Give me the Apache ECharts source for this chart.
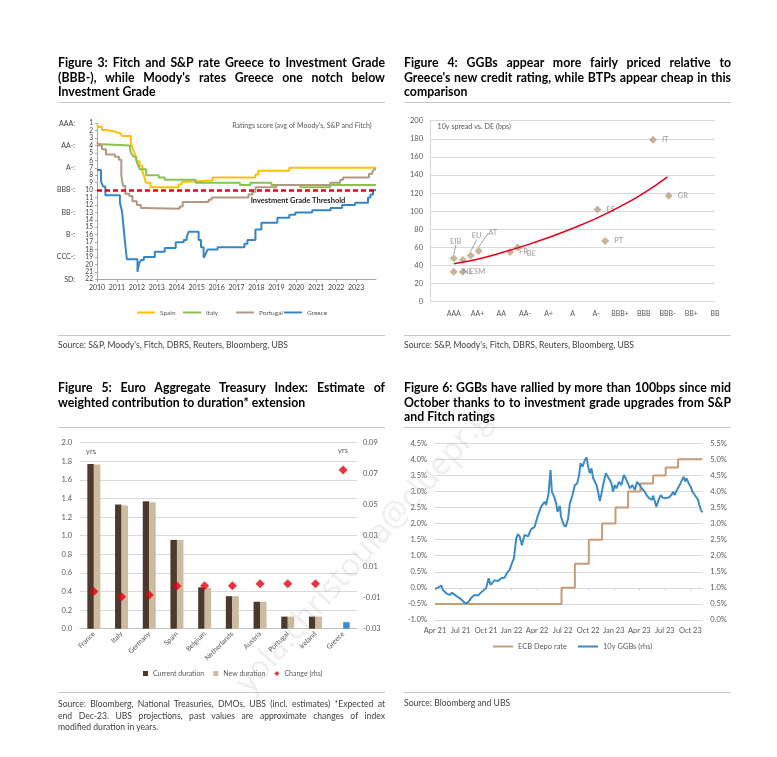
<!DOCTYPE html>
<html><head><meta charset="utf-8">
<script src="https://cdn.jsdelivr.net/npm/echarts@6/dist/echarts.min.js"></script>
<style>
html,body{margin:0;padding:0;background:#fff;}
body{width:777px;height:757px;position:relative;overflow:hidden;font-family:Lato,'Open Sans',sans-serif;}
#chart{position:absolute;left:0;top:0;width:777px;height:757px;}
.title{position:absolute;width:327px;font-weight:700;font-size:12.3px;color:#000;}
.title div{height:14.5px;line-height:14.5px;white-space:nowrap;}
.j{text-align:justify;text-align-last:justify;}
.rule{position:absolute;height:1px;background:#C8C8C8;width:327px;}
.src{position:absolute;font-size:8.6px;color:#404040;width:327px;}
.src div{height:11.5px;line-height:11.5px;white-space:nowrap;}
.wm{position:absolute;left:366px;top:545px;transform:translate(-50%,-50%) rotate(-48.5deg);font-family:'Open Sans',sans-serif;font-size:32px;color:rgba(150,150,150,0.17);white-space:nowrap;pointer-events:none;}
</style></head><body>
<div id="chart"></div>

<div class="title" style="left:58px;top:56px;">
  <div class="j">Figure 3: Fitch and S&amp;P rate Greece to Investment Grade</div>
  <div class="j">(BBB-), while Moody's rates Greece one notch below</div>
  <div>Investment Grade</div>
</div>
<div class="rule" style="left:58px;top:102px;"></div>
<div class="rule" style="left:58px;top:335px;"></div>
<div class="src" style="left:58px;top:340px;"><div>Source: S&amp;P, Moody's, Fitch, DBRS, Reuters, Bloomberg, UBS</div></div>

<div class="title" style="left:404px;top:56px;">
  <div class="j">Figure 4: GGBs appear more fairly priced relative to</div>
  <div class="j">Greece's new credit rating, while BTPs appear cheap in this</div>
  <div>comparison</div>
</div>
<div class="rule" style="left:404px;top:102px;"></div>
<div class="rule" style="left:404px;top:335px;"></div>
<div class="src" style="left:404px;top:340px;"><div>Source: S&amp;P, Moody's, Fitch, DBRS, Reuters, Bloomberg, UBS</div></div>

<div class="title" style="left:58px;top:381px;">
  <div class="j">Figure 5: Euro Aggregate Treasury Index: Estimate of</div>
  <div>weighted contribution to duration* extension</div>
</div>
<div class="rule" style="left:58px;top:427px;"></div>
<div class="rule" style="left:58px;top:692px;"></div>
<div class="src" style="left:58px;top:699px;">
  <div class="j">Source: Bloomberg, National Treasuries, DMOs, UBS (incl. estimates) *Expected at</div>
  <div class="j">end Dec-23. UBS projections, past values are approximate changes of index</div>
  <div>modified duration in years.</div>
</div>

<div class="title" style="left:404px;top:381px;">
  <div class="j">Figure 6: GGBs have rallied by more than 100bps since mid</div>
  <div class="j">October thanks to to investment grade upgrades from S&amp;P</div>
  <div>and Fitch ratings</div>
</div>
<div class="rule" style="left:404px;top:427px;"></div>
<div class="rule" style="left:404px;top:692px;"></div>
<div class="src" style="left:404px;top:698px;"><div>Source: Bloomberg and UBS</div></div>

<div class="wm">yola.christoula@cluepr.gr</div>

<script>
// ---------- Figure 3 data ----------
const ratingScoreTicks = [1, 4, 7, 10, 13, 16, 19, 22];
const ratingScoreLabels = ['AAA:', 'AA-:', 'A-:', 'BBB-:', 'BB-:', 'B-:', 'CCC-:', 'SD:'];
const investmentGradeThreshold = 10;
const spain = [[2010.0,1.2],[2010.1,1.5],[2010.25,1.9],[2010.5,2.1],[2010.85,2.3],[2011.15,2.5],[2011.25,2.7],[2011.7,3.6],[2011.78,4.3],[2011.87,4.9],[2011.95,5.6],[2012.0,6.1],[2012.13,6.7],[2012.27,7.4],[2012.36,8.1],[2012.45,9.0],[2012.68,9.6],[2014.1,9.2],[2014.25,8.9],[2014.35,8.7],[2015.8,8.3],[2017.95,7.9],[2018.1,7.4],[2019.65,7.0],[2024,7.0]];
const italy = [[2010.0,3.8],[2010.05,4.0],[2011.66,4.6],[2011.75,5.2],[2011.85,5.5],[2011.97,6.0],[2012.05,6.6],[2012.15,7.2],[2012.47,8.0],[2013.1,8.3],[2013.4,8.6],[2014.95,9.0],[2017.17,9.3],[2017.7,9.0],[2018.75,9.3],[2020.2,9.6],[2021.7,9.3],[2024,9.3]];
const portugal = [[2010.0,3.5],[2010.1,4.0],[2010.25,4.5],[2010.45,5.2],[2010.9,5.5],[2011.1,5.9],[2011.22,8.0],[2011.3,9.4],[2011.42,10.5],[2011.62,10.8],[2011.78,11.5],[2012.0,12.0],[2012.2,12.4],[2012.35,12.5],[2014.15,12.2],[2014.3,11.6],[2015.6,11.3],[2015.75,11.0],[2017.6,10.6],[2017.8,10.2],[2017.95,9.6],[2019.0,9.3],[2021.7,9.0],[2022.2,8.6],[2022.35,8.3],[2023.65,7.8],[2023.82,7.5],[2023.92,7.2],[2024,7.2]];
const greece = [[2010.0,7.3],[2010.2,8.8],[2010.3,9.5],[2010.42,10.7],[2011.15,11.7],[2011.25,12.8],[2011.32,14.6],[2011.4,16.9],[2011.5,19.3],[2012.03,21.0],[2012.12,19.8],[2012.22,19.4],[2012.35,19.0],[2012.9,18.3],[2013.4,17.8],[2013.95,17.0],[2014.35,16.7],[2014.5,16.3],[2014.6,15.6],[2015.1,16.7],[2015.22,17.7],[2015.35,19.1],[2015.45,18.6],[2015.55,18.0],[2016.05,17.7],[2017.4,17.2],[2017.55,16.7],[2017.95,15.3],[2018.25,14.4],[2019.05,13.7],[2019.65,13.3],[2019.95,13.0],[2020.8,12.7],[2021.72,12.4],[2022.3,12.0],[2022.95,11.7],[2023.6,11.0],[2023.72,10.6],[2023.85,10.0],[2024,10.0]];

// ---------- Figure 4 data ----------
const notchLabels = ['AAA','AA+','AA','AA-','A+','A','A-','BBB+','BBB','BBB-','BB+','BB'];
const issuerNames = ['EIB','','EU','AT','NL','ESM','FR','BE','ES','PT','IT','GR'];
const issuerNotch = [1.0,1.38,1.71,2.05,1.0,1.38,3.37,3.69,7.05,7.38,9.39,10.05];
const issuerSpread = [48,46,51,56,33,33,55,60,102,67,179,117];
const trendNotch = [1,2,3,4,5,6,7,8,9,10];
const trendSpread = [42,47,54,62,71,81,92,105,120,138];

// ---------- Figure 5 data ----------
const countries = ['France','Italy','Germany','Spain','Belgium','Netherlands','Austria','Portugal','Ireland','Greece'];
const currentDuration = [1.77,1.335,1.37,0.955,0.445,0.35,0.29,0.13,0.13,null];
const newDuration = [1.765,1.325,1.36,0.955,0.44,0.35,0.29,0.13,0.13,0.07];
const durationChange = [-0.006,-0.0094,-0.0083,-0.0025,-0.0023,-0.0023,-0.001,-0.001,-0.001,0.0724];

// ---------- Figure 6 data (x = months after the "Apr 21" tick) ----------
const quarterLabels = ['Apr 21','Jul 21','Oct 21','Jan 22','Apr 22','Jul 22','Oct 22','Jan 23','Apr 23','Jul 23','Oct 23'];
const ecbDepo = [[0,-0.5],[14.86,0.0],[16.43,0.75],[18.07,1.5],[19.63,2.0],[21.2,2.5],[22.68,3.0],[24.13,3.25],[25.62,3.5],[27.1,3.75],[28.55,4.0],[31.4,4.0]];
const ggb10y = [[0,0.97],[0.3,1.0],[0.74,1.07],[0.94,0.93],[1.33,0.83],[1.72,0.78],[2.0,0.85],[2.5,0.75],[3.09,0.64],[3.56,0.52],[3.87,0.54],[4.26,0.69],[4.65,0.78],[5.05,0.76],[5.43,0.86],[6.02,1.0],[6.3,1.3],[6.53,1.09],[7.0,1.24],[7.39,1.21],[7.78,1.3],[8.18,1.32],[8.49,1.48],[8.76,1.56],[9.03,1.76],[9.27,1.92],[9.54,2.54],[9.74,2.67],[9.95,2.6],[10.21,2.33],[10.52,2.65],[10.91,2.6],[11.3,2.83],[11.7,2.9],[12.09,3.25],[12.47,3.53],[12.65,3.56],[12.87,3.68],[13.05,3.58],[13.34,3.94],[13.57,4.67],[13.73,3.99],[14.0,3.84],[14.23,3.63],[14.4,3.37],[14.67,3.55],[14.8,3.22],[15.13,2.96],[15.37,2.9],[15.64,3.16],[15.84,3.63],[16.15,3.89],[16.43,4.2],[16.7,4.25],[16.93,4.51],[17.09,4.88],[17.33,4.77],[17.6,4.98],[17.8,5.06],[17.99,4.77],[18.19,4.57],[18.38,4.72],[18.58,4.41],[18.77,4.31],[18.97,4.2],[19.16,3.99],[19.36,3.7],[19.56,3.94],[19.75,4.2],[20.06,4.57],[20.26,4.62],[20.53,4.36],[20.72,4.25],[20.92,3.99],[21.1,4.2],[21.31,4.1],[21.62,4.3],[21.9,4.2],[22.18,4.51],[22.4,4.41],[22.68,4.25],[22.88,4.1],[23.2,4.2],[23.47,4.05],[23.74,4.3],[24.05,4.2],[24.35,4.07],[24.64,3.99],[24.9,3.87],[25.15,3.79],[25.35,3.84],[25.5,3.74],[25.62,3.87],[26.01,3.53],[26.28,3.74],[26.52,3.89],[26.75,3.81],[27.0,3.79],[27.2,3.84],[27.45,3.81],[27.77,3.89],[27.97,3.99],[28.16,3.89],[28.43,4.05],[28.74,4.2],[29.02,4.36],[29.22,4.46],[29.4,4.31],[29.56,4.41],[29.8,4.25],[30.04,4.15],[30.25,3.99],[30.51,3.89],[30.7,3.84],[30.9,3.74],[31.05,3.58],[31.25,3.42],[31.4,3.35]];

// ---------- styling ----------
const FONT = 'Lato';
const GRID_C = '#D9D9D9';
const LBL_C = '#595959';
const fig4Labels = {
  'EIB': {position:'top', dx:2, dy:-4, line:true},
  'EU':  {position:'top', dx:6, dy:-7, line:true},
  'AT':  {position:'top', dx:14, dy:-5, line:true},
  'NL':  {position:'right', dx:0, dy:0},
  'ESM': {position:'right', dx:-2, dy:0},
  'FR':  {position:'right', dx:0, dy:0},
  'BE':  {position:'right', dx:0, dy:6},
};

const chart = echarts.init(document.getElementById('chart'), null, {renderer:'canvas'});

const issuerData = issuerNames.map((n, i) => {
  const p = fig4Labels[n] || {position:'right'};
  const d = {name: n, value: [issuerNotch[i], issuerSpread[i]], label: {position: p.position}};
  if (p.line) d.labelLine = {show: true, lineStyle: {color: '#8C8C8C', width: 0.8}};
  return d;
});

const axisLbl = (extra) => Object.assign({fontFamily: FONT, fontSize: 7.5, color: LBL_C}, extra || {});

const option = {
  animation: false,
  textStyle: {fontFamily: FONT},
  grid: [
    {left: 97, top: 123.3, width: 279, height: 156, outerBoundsMode: 'none'},
    {left: 430, top: 120.7, width: 285, height: 181, outerBoundsMode: 'none'},
    {left: 80, top: 442.7, width: 277, height: 186, outerBoundsMode: 'none'},
    {left: 435, top: 443.3, width: 267.3, height: 176.7, outerBoundsMode: 'none'}
  ],
  xAxis: [
    {gridIndex: 0, type: 'value', min: 2010, max: 2024, interval: 1,
     axisLine: {lineStyle: {color: '#A6A6A6'}}, axisTick: {length: 3, lineStyle: {color: '#A6A6A6'}},
     splitLine: {show: false},
     axisLabel: axisLbl({fontSize: 7, color: '#404040', margin: 5, showMaxLabel: false, formatter: v => v < 2024 ? String(v) : ''})},
    {gridIndex: 1, type: 'value', min: 0, max: 12, interval: 1,
     axisLine: {show: false}, axisTick: {show: false}, splitLine: {show: false},
     axisLabel: axisLbl({fontSize: 7, margin: 9, formatter: v => (v >= 1 && v <= notchLabels.length) ? notchLabels[v - 1] : ''})},
    {gridIndex: 2, type: 'category', data: countries,
     axisLine: {lineStyle: {color: '#BFBFBF'}}, axisTick: {show: false},
     axisLabel: axisLbl({fontSize: 7, rotate: 45, margin: 4, interval: 0})},
    {gridIndex: 3, type: 'value', min: 0, max: 31.4, interval: 3,
     axisLine: {lineStyle: {color: GRID_C}}, axisTick: {length: 3, lineStyle: {color: GRID_C}},
     splitLine: {show: false},
     axisLabel: axisLbl({margin: 7, showMaxLabel: false, formatter: v => {
       const i = Math.round(v / 3);
       return (Math.abs(v - i * 3) < 1e-6 && i < quarterLabels.length) ? quarterLabels[i] : '';
     }})}
  ],
  yAxis: [
    {gridIndex: 0, type: 'value', inverse: true, min: 1, max: 22, interval: 1,
     axisLine: {show: true, lineStyle: {color: '#A6A6A6'}}, axisTick: {show: true, length: 2, lineStyle: {color: '#A6A6A6'}},
     splitLine: {show: false}, axisLabel: axisLbl({fontSize: 6.6, color: '#404040', margin: 4, showMinLabel: true, showMaxLabel: true, hideOverlap: false})},
    {gridIndex: 0, type: 'value', inverse: true, min: 1, max: 22, interval: 1, position: 'left', offset: 18,
     axisLine: {show: false}, axisTick: {show: false}, splitLine: {show: false},
     axisLabel: axisLbl({fontSize: 7, color: '#404040', margin: 4, showMinLabel: true, showMaxLabel: true, formatter: v => {
       const i = ratingScoreTicks.indexOf(Math.round(v));
       return i >= 0 ? ratingScoreLabels[i] : '';
     }})},
    {gridIndex: 1, type: 'value', min: 0, max: 200, interval: 20,
     axisLine: {show: true, lineStyle: {color: GRID_C}}, axisTick: {show: false},
     splitLine: {lineStyle: {color: GRID_C}}, axisLabel: axisLbl({margin: 7})},
    {gridIndex: 2, type: 'value', min: 0, max: 2, interval: 0.2,
     axisLine: {show: false}, axisTick: {show: false},
     splitLine: {lineStyle: {color: GRID_C}}, axisLabel: axisLbl({margin: 8, formatter: v => v.toFixed(1)})},
    {gridIndex: 2, type: 'value', position: 'right', min: -0.03, max: 0.09, interval: 0.02,
     axisLine: {show: false}, axisTick: {show: false}, splitLine: {show: false},
     axisLabel: axisLbl({margin: 6, formatter: v => v.toFixed(2)})},
    {gridIndex: 3, type: 'value', min: -1, max: 4.5, interval: 0.5,
     axisLine: {show: false}, axisTick: {show: false},
     splitLine: {lineStyle: {color: GRID_C}}, axisLabel: axisLbl({margin: 8, formatter: v => v.toFixed(1) + '%'})},
    {gridIndex: 3, type: 'value', position: 'right', min: 0, max: 5.5, interval: 0.5,
     axisLine: {show: false}, axisTick: {show: false}, splitLine: {show: false},
     axisLabel: axisLbl({margin: 8, formatter: v => v.toFixed(1) + '%'})}
  ],
  legend: [
    {data: ['Spain'], left: 137, top: 309},
    {data: ['Italy'], left: 183, top: 309},
    {data: ['Portugal'], left: 236, top: 309},
    {data: ['Greece'], left: 284, top: 309},
  ].map(l => Object.assign(l, {padding: 0, icon: 'rect', itemWidth: 18, itemHeight: 2, selectedMode: false,
      textStyle: {fontFamily: FONT, fontSize: 6.5, color: LBL_C}})).concat([
    {data: [{name: 'Current duration', icon: 'rect'}, {name: 'New duration', icon: 'rect'}, {name: 'Change (rhs)', icon: 'diamond'}],
     left: 143, top: 670, padding: 0, itemWidth: 5, itemHeight: 5, itemGap: 9, selectedMode: false,
     textStyle: {fontFamily: FONT, fontSize: 7, color: LBL_C}},
    {data: ['ECB Depo rate', '10y GGBs (rhs)'], left: 493, top: 642.5, padding: 0, icon: 'rect',
     itemWidth: 20, itemHeight: 2, itemGap: 11, selectedMode: false,
     textStyle: {fontFamily: FONT, fontSize: 7.5, color: LBL_C}}
  ]),
  graphic: [
    {type: 'text', x: 302, y: 126, style: {text: "Ratings score (avg of Moody's, S&P and Fitch)", align: 'center', verticalAlign: 'middle', fontSize: 7, fontFamily: FONT, fill: LBL_C}},
    {type: 'text', x: 298, y: 200.7, style: {text: 'Investment Grade Threshold', align: 'center', verticalAlign: 'middle', fontSize: 7.5, fontWeight: 'bold', fontFamily: FONT, fill: '#1A1A1A'}},
    {type: 'text', x: 437.5, y: 127, style: {text: '10y spread vs. DE (bps)', align: 'left', verticalAlign: 'middle', fontSize: 7.2, fontFamily: FONT, fill: LBL_C}},
    {type: 'text', x: 91, y: 452, style: {text: 'yrs', align: 'center', verticalAlign: 'middle', fontSize: 7.5, fontFamily: FONT, fill: LBL_C}},
    {type: 'text', x: 343, y: 451, style: {text: 'yrs', align: 'center', verticalAlign: 'middle', fontSize: 7.5, fontFamily: FONT, fill: LBL_C}}
  ],
  series: [
    // Figure 3
    {name: 'Spain', type: 'line', xAxisIndex: 0, yAxisIndex: 0, data: spain, step: 'end', symbol: 'none', color: '#FFC000', lineStyle: {width: 2}},
    {name: 'Italy', type: 'line', xAxisIndex: 0, yAxisIndex: 0, data: italy, step: 'end', symbol: 'none', color: '#8CC152', lineStyle: {width: 2}},
    {name: 'Portugal', type: 'line', xAxisIndex: 0, yAxisIndex: 0, data: portugal, step: 'end', symbol: 'none', color: '#B39880', lineStyle: {width: 2}},
    {name: 'Greece', type: 'line', xAxisIndex: 0, yAxisIndex: 0, data: greece, step: 'end', symbol: 'none', color: '#3686C6', lineStyle: {width: 2},
     markLine: {silent: true, symbol: 'none', label: {show: false},
       lineStyle: {color: '#E2001A', type: [5, 3], width: 2.5},
       data: [{yAxis: investmentGradeThreshold}]}},
    // Figure 4
    {name: 'Trend', type: 'line', xAxisIndex: 1, yAxisIndex: 2, data: trendNotch.map((x, i) => [x, trendSpread[i]]),
     smooth: true, symbol: 'none', color: '#E2001A', lineStyle: {width: 1.5}},
    {name: 'Issuers', type: 'scatter', xAxisIndex: 1, yAxisIndex: 2, data: issuerData,
     symbol: 'diamond', symbolSize: 8, itemStyle: {color: '#BC9E82'},
     label: {show: true, formatter: '{b}', distance: 5, fontSize: 7.5, fontFamily: FONT, color: '#7F7F7F'},
     labelLayout: function (params) {
       const p = fig4Labels[issuerNames[params.dataIndex]];
       return p ? {dx: p.dx, dy: p.dy} : {};
     }},
    // Figure 5
    {name: 'Current duration', type: 'bar', xAxisIndex: 2, yAxisIndex: 3, data: currentDuration,
     barWidth: 6.5, barGap: '0%', itemStyle: {color: '#4B3A2C'}},
    {name: 'New duration', type: 'bar', xAxisIndex: 2, yAxisIndex: 3,
     data: newDuration.map((v, i) => countries[i] === 'Greece' ? {value: v, itemStyle: {color: '#3C8DD0'}} : v),
     barWidth: 6.5, barGap: '0%', itemStyle: {color: '#CDBB9F'}},
    {name: 'Change (rhs)', type: 'scatter', xAxisIndex: 2, yAxisIndex: 4, data: durationChange,
     symbol: 'diamond', symbolSize: 9, itemStyle: {color: '#E60012'}, z: 5},
    // Figure 6
    {name: 'ECB Depo rate', type: 'line', xAxisIndex: 3, yAxisIndex: 5, data: ecbDepo, step: 'end',
     symbol: 'none', color: '#C49C78', lineStyle: {width: 2}},
    {name: '10y GGBs (rhs)', type: 'line', xAxisIndex: 3, yAxisIndex: 6, data: ggb10y,
     symbol: 'none', color: '#3B8BC7', lineStyle: {width: 2}}
  ]
};
chart.setOption(option);
</script>
</body></html>
